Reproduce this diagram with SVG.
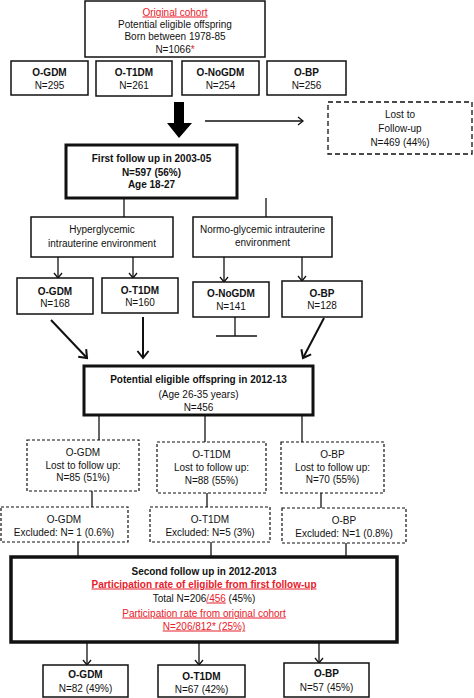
<svg xmlns="http://www.w3.org/2000/svg" width="474" height="698" viewBox="0 0 474 698">
<style>
text{font-family:"Liberation Sans",Arial,sans-serif;font-size:10px;fill:#111;text-anchor:middle}
.b{font-weight:bold}
.red{fill:#e8202a}
.u{text-decoration:underline}
.box{fill:#fff;stroke:#111;stroke-width:1.5}
.thick{fill:#fff;stroke:#111;stroke-width:3}
.dash{fill:#fff;stroke:#111;stroke-width:1.3;stroke-dasharray:5 3}
.dot{fill:#fff;stroke:#111;stroke-width:1.2;stroke-dasharray:3 2}
.ln{stroke:#111;stroke-width:1.3;fill:none}
.tk{stroke:#111;stroke-width:2;fill:none}
</style>
<defs>
<marker id="ah" markerUnits="userSpaceOnUse" markerWidth="10" markerHeight="10" refX="8" refY="5" orient="auto">
<path d="M3,1 L8,5 L3,9" fill="none" stroke="#111" stroke-width="1.3"/>
</marker>
<marker id="ahb" markerUnits="userSpaceOnUse" markerWidth="14" markerHeight="14" refX="11" refY="7" orient="auto">
<path d="M4,1.5 L11,7 L4,12.5" fill="none" stroke="#111" stroke-width="2"/>
</marker>
</defs>

<g id="connectors">
<polygon points="174,102 184,102 184,123 192,123 179,138 167,123 174,123" fill="#000"/>
<line class="ln" x1="205" y1="121" x2="303" y2="121" marker-end="url(#ah)"/>
<line class="ln" x1="124" y1="198" x2="124" y2="217"/>
<line class="ln" x1="266" y1="198" x2="266" y2="217"/>
<line class="ln" x1="58" y1="257" x2="58" y2="278" marker-end="url(#ah)"/>
<line class="ln" x1="133" y1="257" x2="133" y2="278" marker-end="url(#ah)"/>
<line class="ln" x1="224" y1="257" x2="224" y2="282" marker-end="url(#ah)"/>
<line class="ln" x1="302" y1="257" x2="302" y2="281" marker-end="url(#ah)"/>
<line class="ln" x1="235" y1="317" x2="235" y2="336"/>
<line class="ln" x1="216" y1="336" x2="257" y2="336"/>
<line class="tk" x1="51" y1="320" x2="87" y2="358" marker-end="url(#ahb)"/>
<line class="tk" x1="143" y1="317" x2="143" y2="358" marker-end="url(#ahb)"/>
<line class="tk" x1="324" y1="318" x2="303" y2="358" marker-end="url(#ahb)"/>
<line class="ln" x1="99" y1="415" x2="99" y2="440"/>
<line class="ln" x1="205" y1="415" x2="205" y2="442"/>
<line class="ln" x1="302" y1="415" x2="302" y2="442"/>
<line class="ln" x1="92" y1="491" x2="92" y2="507"/>
<line class="ln" x1="207" y1="493" x2="207" y2="507"/>
<line class="ln" x1="321" y1="493" x2="321" y2="508"/>
<line class="ln" x1="78" y1="542" x2="78" y2="557"/>
<line class="ln" x1="211" y1="542" x2="211" y2="557"/>
<line class="ln" x1="346" y1="543" x2="346" y2="557"/>
<line class="ln" x1="87" y1="642" x2="87" y2="665" marker-end="url(#ah)"/>
<line class="ln" x1="199" y1="642" x2="199" y2="665" marker-end="url(#ah)"/>
<line class="ln" x1="319" y1="642" x2="319" y2="663" marker-end="url(#ah)"/>
</g>

<g id="original">
<rect class="box" x="85" y="1" width="180" height="56"/>
<text x="175" y="15.5" class="red u">Original cohort</text>
<text x="175" y="27.5">Potential eligible offspring</text>
<text x="175" y="39.5">Born between 1978-85</text>
<text x="175" y="52.5">N=1066<tspan class="red">*</tspan></text>
</g>

<g id="o-gdm-1">
<rect class="box" x="11" y="61" width="77" height="34"/>
<text x="49.5" y="75.5" class="b">O-GDM</text>
<text x="49.5" y="88.5">N=295</text>
</g>
<g id="o-t1dm-1">
<rect class="box" x="96" y="61" width="76" height="35"/>
<text x="134" y="75.5" class="b">O-T1DM</text>
<text x="134" y="88.5">N=261</text>
</g>
<g id="o-nogdm-1">
<rect class="box" x="182" y="61" width="77" height="34"/>
<text x="220.5" y="75.5" class="b">O-NoGDM</text>
<text x="220.5" y="88.5">N=254</text>
</g>
<g id="o-bp-1">
<rect class="box" x="267" y="61" width="79" height="34"/>
<text x="306.5" y="75.5" class="b">O-BP</text>
<text x="306.5" y="88.5">N=256</text>
</g>

<g id="lost">
<rect class="dash" x="328" y="102" width="144" height="52"/>
<text x="400" y="117.5">Lost to</text>
<text x="400" y="131.5">Follow-up</text>
<text x="400" y="145.5">N=469 (44%)</text>
</g>

<g id="first-follow-up">
<rect class="thick" x="66" y="145" width="171" height="53"/>
<text x="151.5" y="161.5" class="b">First follow up in 2003-05</text>
<text x="151.5" y="175.5" class="b">N=597 (56%)</text>
<text x="151.5" y="187.5" class="b">Age 18-27</text>
</g>

<g id="hyper">
<rect class="box" x="31" y="217" width="142" height="40"/>
<text x="102" y="232.5">Hyperglycemic</text>
<text x="102" y="246.5">intrauterine environment</text>
</g>
<g id="normo">
<rect class="box" x="193" y="217" width="139" height="40"/>
<text x="262.5" y="232.5">Normo-glycemic intrauterine</text>
<text x="262.5" y="245.5">environment</text>
</g>

<g id="o-gdm-2">
<rect class="box" x="17" y="278" width="76" height="36"/>
<text x="55" y="294.5" class="b">O-GDM</text>
<text x="55" y="306.5">N=168</text>
</g>
<g id="o-t1dm-2">
<rect class="box" x="102" y="278" width="76" height="35"/>
<text x="140" y="293.5" class="b">O-T1DM</text>
<text x="140" y="305.5">N=160</text>
</g>
<g id="o-nogdm-2">
<rect class="box" x="193" y="282" width="76" height="35"/>
<text x="231" y="296.5" class="b">O-NoGDM</text>
<text x="231" y="309.5">N=141</text>
</g>
<g id="o-bp-2">
<rect class="box" x="282" y="281" width="80" height="36"/>
<text x="322" y="296.5" class="b">O-BP</text>
<text x="322" y="308.5">N=128</text>
</g>

<g id="potential">
<rect class="thick" x="84" y="366" width="229" height="49"/>
<text x="198.5" y="382.5" class="b">Potential eligible offspring in 2012-13</text>
<text x="198.5" y="397.5">(Age 26-35 years)</text>
<text x="198.5" y="410.5">N=456</text>
</g>

<g id="lost-gdm">
<rect class="dot" x="27" y="440" width="112" height="51"/>
<text x="83" y="455.5">O-GDM</text>
<text x="83" y="468.5">Lost to follow up:</text>
<text x="83" y="480.5">N=85 (51%)</text>
</g>
<g id="lost-t1dm">
<rect class="dot" x="157" y="442" width="109" height="51"/>
<text x="211.5" y="457.5">O-T1DM</text>
<text x="211.5" y="470.5">Lost to follow up:</text>
<text x="211.5" y="483.5">N=88 (55%)</text>
</g>
<g id="lost-bp">
<rect class="dot" x="281" y="442" width="103" height="51"/>
<text x="332.5" y="457.5">O-BP</text>
<text x="332.5" y="470.5">Lost to follow up:</text>
<text x="332.5" y="482.5">N=70 (55%)</text>
</g>

<g id="excl-gdm">
<rect class="dot" x="1" y="507" width="127" height="35"/>
<text x="64" y="522.5">O-GDM</text>
<text x="64" y="535.5">Excluded: N= 1 (0.6%)</text>
</g>
<g id="excl-t1dm">
<rect class="dot" x="150" y="507" width="120" height="35"/>
<text x="210" y="522.5">O-T1DM</text>
<text x="210" y="535.5">Excluded: N=5 (3%)</text>
</g>
<g id="excl-bp">
<rect class="dot" x="282" y="508" width="124" height="35"/>
<text x="344" y="523.5">O-BP</text>
<text x="344" y="536.5">Excluded: N=1 (0.8%)</text>
</g>

<g id="second-follow-up">
<rect class="thick" x="11" y="557" width="386" height="85" style="stroke-width:3.5"/>
<text x="204" y="574.5" class="b">Second follow up in 2012-2013</text>
<text x="204" y="587.5" class="b red u">Participation rate of eligible from first follow-up</text>
<text x="204" y="601.5">Total N=206<tspan class="red u">/456</tspan> (45%)</text>
<text x="204" y="616.5" class="red u">Participation rate from original cohort</text>
<text x="204" y="629.5" class="red u">N=206/812* (25%)</text>
</g>

<g id="o-gdm-3">
<rect class="box" x="43" y="665" width="85" height="32"/>
<text x="85.5" y="677.5" class="b">O-GDM</text>
<text x="85.5" y="691.5">N=82 (49%)</text>
</g>
<g id="o-t1dm-3">
<rect class="box" x="158" y="665" width="87" height="32"/>
<text x="201.5" y="679.5" class="b">O-T1DM</text>
<text x="201.5" y="692.5">N=67 (42%)</text>
</g>
<g id="o-bp-3">
<rect class="box" x="284" y="663" width="85" height="34"/>
<text x="326.5" y="676.5" class="b">O-BP</text>
<text x="326.5" y="690.5">N=57 (45%)</text>
</g>
</svg>
